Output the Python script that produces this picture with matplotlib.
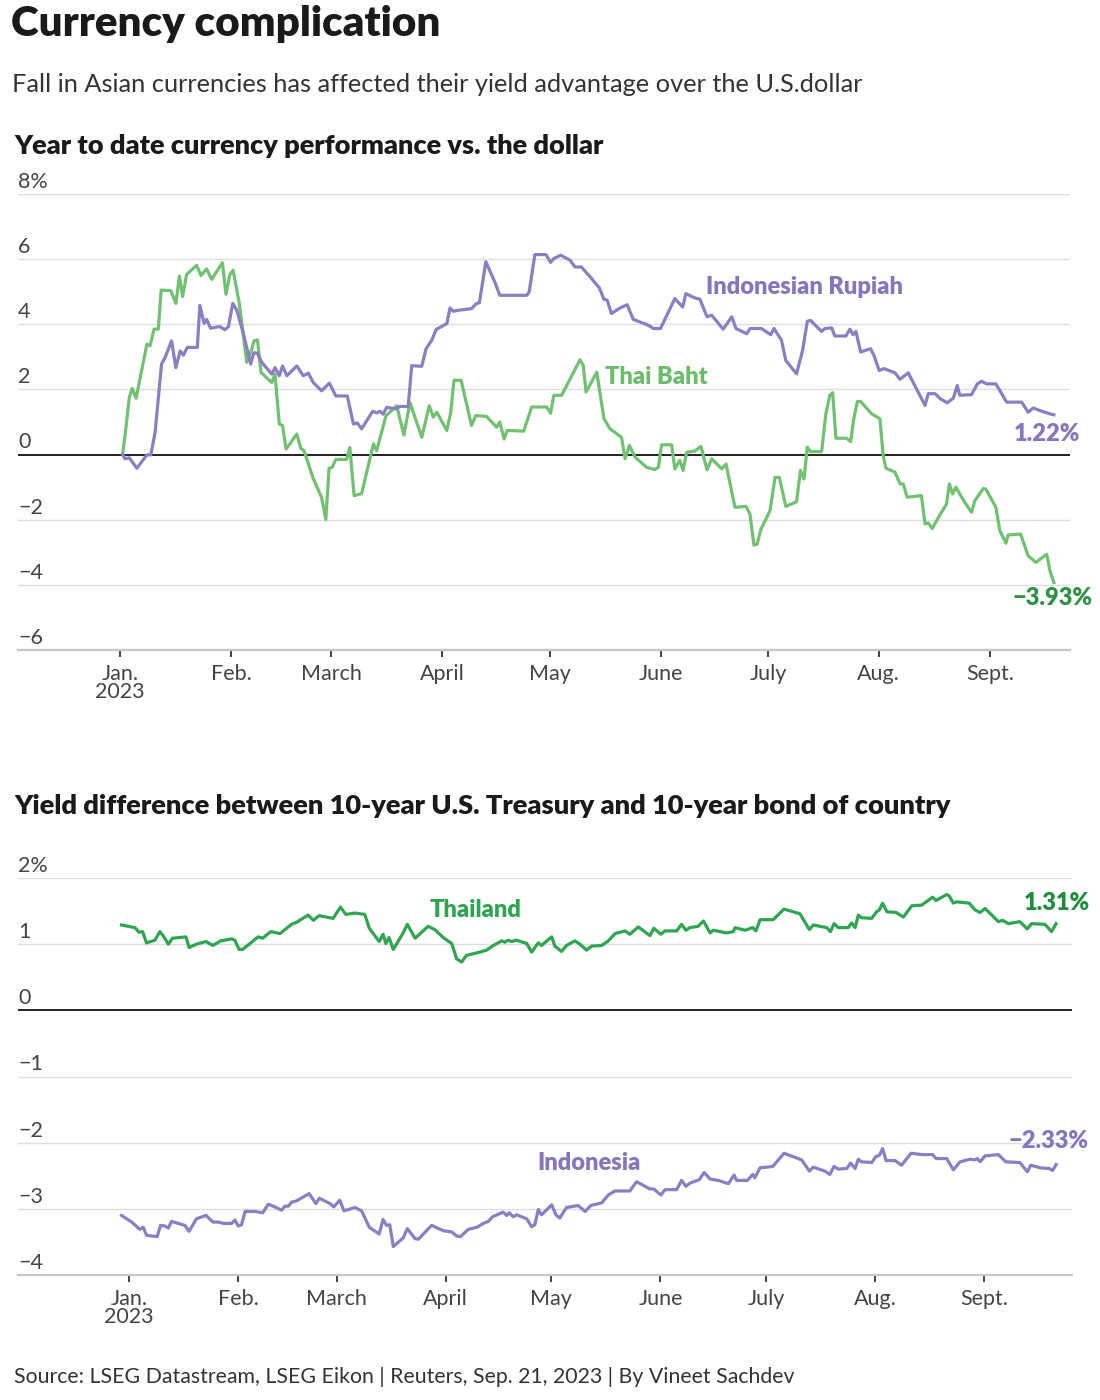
import matplotlib
matplotlib.use("Agg")
import matplotlib.pyplot as plt
from matplotlib.transforms import offset_copy

plt.rcParams['font.family'] = ['Lato', 'DejaVu Sans']

# ---------------- Data ----------------
# Chart 1: year-to-date currency performance vs USD (%), x = days since Jan 1, 2023
baht_days = [0.75, 1.4, 2.6, 3.4, 4.5, 7.5, 8.4, 9.5, 10.7, 11.5, 14.2, 15.6, 16.6, 17.5, 18.6,
             21.4, 22.6, 24.2, 25.6, 28.6, 29.6, 30.7, 31.6, 33.3, 35.4, 36.8, 37.4, 38.4, 39.4,
             42.4, 43.3, 44.5, 45.4, 46.4, 49.4, 50.5, 51.4, 54.0, 56.3, 57.5, 58.4, 59.3, 60.3,
             63.3, 64.2, 65.4, 67.5, 70.8, 71.7, 74.3, 77.3, 79.3, 81.0, 84.3, 86.4, 87.5, 88.5,
             91.3, 92.4, 93.3, 95.3, 98.2, 99.4, 102.4, 105.2, 106.1, 107.3, 108.2, 112.8, 115.0,
             119.2, 120.3, 121.2, 123.4, 128.5, 129.4, 130.2, 133.2, 135.2, 136.9, 140.1, 141.1,
             142.3, 143.9, 147.1, 149.4, 150.4, 151.3, 154.1, 155.0, 156.4, 157.3, 158.3, 160.6,
             162.3, 164.0, 165.3, 168.1, 169.3, 171.8, 174.9, 176.0, 177.1, 178.0, 179.0, 181.6,
             183.0, 184.2, 186.0, 189.0, 190.1, 191.1, 192.0, 192.9, 196.0, 197.2, 198.3, 199.1,
             200.0, 203.0, 204.1, 205.0, 206.0, 206.9, 210.0, 211.5, 212.3, 213.2, 214.0, 216.5,
             217.9, 218.8, 219.9, 223.9, 224.9, 225.8, 226.9, 228.9, 230.9, 231.7, 232.6, 233.5,
             236.0, 237.9, 238.8, 241.2, 241.9, 244.7, 245.8, 247.5, 248.1, 251.6, 253.7, 255.9,
             258.9, 259.8, 260.9]
baht_vals = [0.05, 0.58, 1.76, 2.03, 1.73, 3.39, 3.34, 3.85, 3.85, 5.05, 5.03, 4.64, 5.48, 4.85, 5.53,
             5.81, 5.5, 5.7, 5.38, 5.89, 4.92, 5.53, 5.66, 4.66, 2.83, 3.23, 3.49, 3.52, 2.52,
             2.21, 2.47, 0.94, 0.89, 0.17, 0.63, 0.19, 0.12, -0.74, -1.31, -1.99, -0.42, -0.39, -0.15,
             -0.15, 0.22, -1.26, -1.2, 0.33, 0.12, 1.19, 1.5, 0.6, 1.6, 0.53, 1.5, 1.15, 1.3,
             0.74, 1.3, 2.28, 2.28, 0.89, 1.2, 1.17, 0.84, 1.0, 0.48, 0.74, 0.72, 1.46,
             1.46, 1.27, 1.82, 1.82, 2.91, 2.74, 1.92, 2.53, 1.1, 0.79, 0.53, -0.13,
             0.28, -0.08, -0.39, -0.46, -0.39, 0.3, 0.3, -0.44, -0.18, -0.49, 0.07, 0.11,
             0.25, -0.47, -0.13, -0.44, -0.29, -1.62, -1.59, -1.83, -2.78, -2.75, -2.31, -1.72,
             -0.7, -0.7, -1.59, -1.45, -0.49, -0.75, 0.23, 0.09, 0.09, 1.25, 1.82, 1.9,
             0.5, 0.5, 0.4, 1.1, 1.63, 1.63, 1.25, 1.15, 1.1, -0.03, -0.42, -0.54,
             -0.9, -0.9, -1.31, -1.26, -2.13, -2.1, -2.27, -1.88, -1.52, -0.9, -1.21, -1.0,
             -1.47, -1.77, -1.42, -1.04, -1.06, -1.62, -2.34, -2.72, -2.47, -2.44, -3.11, -3.31,
             -3.06, -3.57, -3.93]

rupiah_days = [0.75, 1.4, 2.6, 4.7, 7.5, 8.6, 9.8, 11.6, 12.6, 14.4, 15.6, 16.8, 17.7, 18.8, 21.6,
               22.3, 23.5, 24.2, 25.3, 27.9, 29.3, 30.3, 31.5, 32.6, 34.4, 36.5, 37.4, 38.4, 39.6,
               42.4, 43.3, 44.5, 45.4, 46.6, 49.4, 51.2, 52.6, 54.0, 56.3, 58.5, 60.3, 63.5, 65.2,
               66.3, 67.5, 70.6, 71.7, 72.6, 73.5, 74.5, 77.1, 78.2, 80.5, 81.5, 84.3, 85.5, 87.1,
               88.3, 91.3, 92.2, 93.1, 94.5, 98.2, 99.6, 100.4, 102.2, 104.7, 106.1, 113.6, 114.3,
               115.9, 119.0, 120.3, 121.2, 123.1, 125.7, 127.1, 128.9, 131.3, 133.9, 135.2, 136.1,
               137.3, 139.7, 141.7, 143.4, 147.6, 149.0, 151.0, 153.2, 155.0, 157.2, 158.1, 160.6,
               162.0, 164.0, 165.3, 168.5, 170.9, 172.1, 175.1, 176.0, 179.2, 181.8, 182.7, 184.8,
               186.0, 189.0, 190.7, 192.0, 192.9, 196.0, 196.9, 198.8, 199.7, 202.8, 203.9, 204.8,
               205.6, 206.9, 209.7, 210.6, 212.1, 213.4, 216.5, 217.9, 220.2, 222.5, 224.9, 225.8,
               227.7, 229.2, 231.1, 232.8, 233.9, 234.6, 237.9, 239.5, 240.7, 242.1, 244.7, 247.7,
               251.9, 253.7, 255.1, 257.0, 259.8, 260.9]
rupiah_vals = [0.0, -0.13, -0.1, -0.42, -0.01, -0.01, 0.68, 2.78, 2.98, 3.49, 2.67, 3.18, 3.05, 3.29, 3.29,
               4.58, 4.03, 4.15, 3.88, 3.93, 3.83, 3.93, 4.64, 4.44, 3.74, 2.78, 3.13, 3.11, 2.83,
               2.47, 2.67, 2.42, 2.72, 2.42, 2.72, 2.42, 2.5, 2.21, 1.96, 2.19, 1.8, 1.8, 0.94,
               0.97, 0.79, 1.33, 1.28, 1.33, 1.24, 1.45, 1.4, 1.48, 1.47, 2.73, 2.71, 3.25, 3.51,
               3.84, 4.02, 4.5, 4.4, 4.43, 4.48, 4.64, 4.66, 5.92, 5.3, 4.89, 4.89, 4.99,
               6.14, 6.14, 5.9, 6.02, 6.12, 5.97, 5.76, 5.76, 5.46, 5.12, 4.77, 4.74,
               4.33, 4.5, 4.6, 4.15, 3.97, 3.87, 3.87, 4.38, 4.79, 4.53, 4.94, 4.81,
               4.77, 4.23, 4.28, 3.85, 4.23, 3.87, 3.71, 3.87, 3.87, 3.68, 3.87, 3.51,
               2.89, 2.48, 3.2, 4.09, 4.12, 3.78, 3.87, 3.89, 3.64, 3.64, 3.85, 3.68,
               3.78, 3.15, 3.25, 3.05, 2.58, 2.64, 2.51, 2.31, 2.51, 2.02, 1.51, 1.87,
               1.87, 1.71, 1.59, 1.73, 2.12, 1.82, 1.84, 2.17, 2.25, 2.17, 2.17, 1.61,
               1.61, 1.3, 1.43, 1.35, 1.25, 1.22]

# Chart 2: yield difference, 10-year US Treasury vs 10-year local bond (pct points)
thai_days = [-2.1, 1.7, 2.9, 3.9, 5.0, 7.4, 8.8, 9.7, 11.2, 12.4, 16.2, 17.1, 19.2, 21.9, 23.8,
             26.1, 29.2, 30.1, 31.3, 32.3, 36.7, 38.0, 40.3, 42.9, 46.2, 47.6, 50.9, 52.4, 54.0,
             58.0, 60.1, 61.6, 64.2, 67.0, 68.3, 71.1, 72.2, 73.0, 73.9, 75.1, 77.8, 79.1, 81.3,
             85.0, 86.9, 89.3, 91.7, 93.1, 94.5, 95.9, 99.7, 101.6, 103.5, 105.9, 106.8, 107.8,
             108.7, 110.1, 113.0, 114.4, 116.3, 117.2, 120.1, 121.0, 122.9, 124.3, 126.7, 128.1,
             130.0, 131.4, 134.3, 136.2, 138.1, 140.9, 142.3, 144.7, 148.0, 149.1, 151.1, 152.3,
             155.6, 157.0, 158.2, 159.4, 161.7, 163.2, 165.1, 166.0, 169.8, 171.7, 172.2, 175.0,
             177.2, 178.1, 179.3, 183.0, 186.1, 190.6, 193.3, 194.4, 198.2, 199.3, 200.3, 201.5,
             204.3, 205.3, 206.3, 207.2, 208.1, 211.0, 212.4, 213.2, 214.1, 215.3, 217.9, 220.0,
             222.4, 225.2, 228.3, 229.3, 232.3, 233.0, 234.2, 235.1, 238.7, 240.3, 241.8, 243.2,
             247.0, 248.2, 249.8, 253.1, 255.2, 256.4, 260.2, 262.1, 263.4]
thai_vals = [1.29, 1.25, 1.18, 1.19, 1.02, 1.06, 1.19, 1.13, 1.0, 1.09, 1.11, 0.95, 1.0, 1.04, 0.98,
             1.05, 1.08, 1.06, 0.92, 0.92, 1.11, 1.09, 1.19, 1.16, 1.3, 1.33, 1.44, 1.36, 1.43,
             1.39, 1.56, 1.45, 1.47, 1.45, 1.24, 1.04, 1.15, 1.01, 1.10, 0.92, 1.16, 1.30, 1.09,
             1.27, 1.22, 1.10, 1.01, 0.78, 0.73, 0.83, 0.88, 0.91, 0.98, 1.05, 1.03, 1.06,
             1.04, 1.06, 1.01, 0.88, 1.02, 0.98, 1.11, 0.97, 0.89, 0.98, 1.05, 1.0,
             0.91, 0.97, 0.98, 1.05, 1.16, 1.2, 1.15, 1.26, 1.13, 1.24, 1.15, 1.2,
             1.2, 1.3, 1.21, 1.25, 1.27, 1.35, 1.17, 1.21, 1.17, 1.19, 1.25, 1.21,
             1.25, 1.2, 1.37, 1.37, 1.53, 1.46, 1.22, 1.29, 1.25, 1.19, 1.31, 1.25,
             1.25, 1.32, 1.25, 1.44, 1.40, 1.39, 1.49, 1.52, 1.62, 1.49, 1.48, 1.41,
             1.58, 1.59, 1.71, 1.66, 1.75, 1.73, 1.62, 1.64, 1.62, 1.52, 1.48, 1.54,
             1.34, 1.36, 1.31, 1.34, 1.23, 1.31, 1.30, 1.19, 1.31]

indo_days = [-2.1, 0.8, 3.1, 4.1, 5.0, 8.0, 9.0, 10.2, 11.2, 12.1, 15.9, 17.1, 19.2, 21.9, 23.9,
             25.4, 26.8, 29.2, 30.1, 31.1, 32.0, 33.0, 35.8, 38.0, 39.6, 41.0, 43.4, 44.3, 45.3,
             46.2, 47.6, 51.2, 53.1, 54.1, 57.1, 58.2, 59.9, 61.1, 64.2, 66.1, 68.3, 71.1, 72.2,
             73.2, 74.1, 75.1, 77.9, 79.1, 81.3, 82.2, 86.0, 89.3, 91.7, 93.1, 94.2, 96.4, 98.8,
             100.7, 102.1, 103.3, 106.3, 107.3, 108.0, 109.2, 110.1, 113.0, 114.4, 115.3, 116.3,
             117.2, 120.1, 121.3, 122.4, 124.3, 127.6, 129.6, 131.2, 134.3, 136.2, 138.1, 142.3,
             144.2, 148.0, 149.1, 151.1, 152.3, 155.6, 157.0, 158.2, 159.4, 162.0, 163.4, 165.1,
             167.4, 170.3, 171.9, 172.6, 175.7, 177.2, 177.8, 179.3, 182.9, 186.1, 191.1, 193.3,
             194.4, 197.7, 199.1, 200.3, 201.5, 203.9, 205.0, 206.3, 207.2, 208.1, 211.0, 212.2,
             213.2, 214.1, 215.1, 217.6, 219.5, 222.2, 225.2, 228.3, 229.3, 232.3, 234.2, 236.1,
             238.9, 240.3, 241.0, 241.8, 243.2, 247.0, 249.1, 253.1, 255.2, 256.2, 258.8, 261.4,
             262.4, 263.4]
indo_vals = [-3.10, -3.20, -3.31, -3.28, -3.40, -3.42, -3.25, -3.26, -3.29, -3.19, -3.25, -3.34, -3.15,
             -3.10, -3.20, -3.20, -3.22, -3.22, -3.17, -3.26, -3.24, -3.04, -3.04, -3.06, -2.93,
             -2.96, -3.02, -2.96, -2.96, -2.90, -2.88, -2.77, -2.92, -2.84, -2.92, -2.97, -2.87,
             -3.03, -2.98, -3.03, -3.28, -3.38, -3.16, -3.25, -3.24, -3.57, -3.44, -3.30, -3.45,
             -3.46, -3.25, -3.33, -3.35, -3.41, -3.42, -3.31, -3.28, -3.22, -3.19, -3.12, -3.05,
             -3.10, -3.06, -3.12, -3.09, -3.15, -3.27, -3.24, -3.01, -3.09, -2.94, -3.09, -3.14,
             -2.98, -2.95, -3.04, -2.95, -2.91, -2.79, -2.73, -2.73, -2.59, -2.70, -2.70, -2.79,
             -2.71, -2.71, -2.57, -2.66, -2.61, -2.56, -2.45, -2.55, -2.57, -2.62, -2.49, -2.57,
             -2.57, -2.48, -2.53, -2.38, -2.36, -2.16, -2.26, -2.43, -2.37, -2.43, -2.48, -2.36,
             -2.40, -2.39, -2.31, -2.39, -2.25, -2.29, -2.30, -2.21, -2.19, -2.09, -2.27, -2.27,
             -2.34, -2.16, -2.18, -2.18, -2.24, -2.24, -2.41, -2.29, -2.25, -2.26, -2.24, -2.29,
             -2.20, -2.18, -2.29, -2.30, -2.44, -2.34, -2.38, -2.39, -2.42, -2.33]

month_days = [0, 31, 59, 90, 120, 151, 181, 212, 243]
month_labels = ["Jan.\n2023", "Feb.", "March", "April", "May", "June", "July", "Aug.", "Sept."]
y1_ticks = [8, 6, 4, 2, 0, -2, -4, -6]
y1_labels = ["8%", "6", "4", "2", "0", "\u22122", "\u22124", "\u22126"]
y2_ticks = [2, 1, 0, -1, -2, -3, -4]
y2_labels = ["2%", "1", "0", "\u22121", "\u22122", "\u22123", "\u22124"]

# ---------------- Style ----------------
PURPLE = "#8b7ec1"
PURPLE_TXT = "#8676ba"
GREEN_LIGHT = "#72c072"
GREEN_TXT1 = "#6cbc6c"
GREEN_END1 = "#2f9147"
GREEN_DARK = "#2fa451"
GREEN_END2 = "#1f8c3f"
TICK_COLOR = "#444444"
GRID = "#dedede"
LBL = 17

W, H = 1100, 1400
fig = plt.figure(figsize=(W / 100, H / 100), dpi=100)


def fx(px):
    return px / W


def fy(py):
    return 1 - py / H


# titles
fig.text(fx(11), fy(24), "Currency complication", fontsize=30.3, fontweight="heavy",
         color="#1a1a1a", va="center", ha="left")
fig.text(fx(12), fy(84), "Fall in Asian currencies has affected their yield advantage over the U.S.dollar",
         fontsize=18.3, fontweight="normal", color="#333333", va="center", ha="left")
fig.text(fx(14), fy(146), "Year to date currency performance vs. the dollar",
         fontsize=19.5, fontweight="heavy", color="#1a1a1a", va="center", ha="left")
fig.text(fx(14), fy(806), "Yield difference between 10-year U.S. Treasury and 10-year bond of country",
         fontsize=19.6, fontweight="heavy", color="#1a1a1a", va="center", ha="left")
fig.text(fx(14), fy(1377), "Source: LSEG Datastream, LSEG Eikon | Reuters, Sep. 21, 2023 | By Vineet Sachdev",
         fontsize=15.3, fontweight="normal", color="#333333", va="center", ha="left")


def style_axes(ax, yticks, ylabels, zero_lw=1.3):
    ax.set_facecolor("none")
    for s in ["top", "right", "left"]:
        ax.spines[s].set_visible(False)
    ax.spines["bottom"].set_color("#c8c8c8")
    ax.spines["bottom"].set_linewidth(1.6)
    ax.set_yticks([])
    for t in yticks:
        if t == yticks[-1]:
            continue
        if t == 0:
            ax.axhline(0, color="#111111", lw=zero_lw, zorder=2)
        else:
            ax.axhline(t, color=GRID, lw=1.0, zorder=1)
    trans = offset_copy(ax.get_yaxis_transform(), fig=fig, x=0, y=1.5, units="points")
    for t, lab in zip(yticks, ylabels):
        ax.text(0, t, lab, transform=trans, ha="left", va="bottom", fontsize=15.5,
                fontweight="normal", color=TICK_COLOR)
    ax.set_xticks(month_days)
    ax.set_xticklabels(month_labels, fontsize=15.5, fontweight="normal", color=TICK_COLOR,
                       linespacing=0.9)
    ax.tick_params(axis="x", length=5, width=1.2, color="#222222", pad=5)


# ---------------- Chart 1 ----------------
ax1 = fig.add_axes([fx(18), fy(650), fx(1070) - fx(18), fy(194) - fy(650)])
ax1.set_xlim(-28.5, 265.4)
ax1.set_ylim(-6, 8)
style_axes(ax1, y1_ticks, y1_labels)
ax1.plot(baht_days, baht_vals, color=GREEN_LIGHT, lw=2.3, zorder=3, solid_joinstyle="round")
ax1.plot(rupiah_days, rupiah_vals, color=PURPLE, lw=2.3, zorder=4, solid_joinstyle="round")
ax1.text(163.7, 5.15, "Indonesian Rupiah", color=PURPLE_TXT, fontsize=LBL, fontweight="heavy",
         ha="left", va="center")
ax1.text(135.5, 2.39, "Thai Baht", color=GREEN_TXT1, fontsize=LBL, fontweight="heavy",
         ha="left", va="center")
ax1.text(268.2, 0.64, "1.22%", color=PURPLE_TXT, fontsize=LBL, fontweight="heavy",
         ha="right", va="center", clip_on=False)
ax1.text(271.8, -4.39, "\u22123.93%", color=GREEN_END1, fontsize=LBL, fontweight="heavy",
         ha="right", va="center", clip_on=False)

# ---------------- Chart 2 ----------------
ax2 = fig.add_axes([fx(18), fy(1275), fx(1072) - fx(18), fy(878) - fy(1275)])
ax2.set_xlim(-31.5, 267.9)
ax2.set_ylim(-4, 2)
style_axes(ax2, y2_ticks, y2_labels)
ax2.plot(thai_days, thai_vals, color=GREEN_DARK, lw=2.3, zorder=3, solid_joinstyle="round")
ax2.plot(indo_days, indo_vals, color=PURPLE, lw=2.3, zorder=3, solid_joinstyle="round")
ax2.text(85.5, 1.52, "Thailand", color=GREEN_DARK, fontsize=LBL, fontweight="heavy",
         ha="left", va="center")
ax2.text(115.9, -2.30, "Indonesia", color=PURPLE_TXT, fontsize=LBL, fontweight="heavy",
         ha="left", va="center")
ax2.text(273.0, 1.62, "1.31%", color=GREEN_END2, fontsize=LBL, fontweight="heavy",
         ha="right", va="center", clip_on=False)
ax2.text(272.7, -1.98, "\u22122.33%", color=PURPLE_TXT, fontsize=LBL, fontweight="heavy",
         ha="right", va="center", clip_on=False)

fig.savefig("out.png", dpi=100, facecolor="white")
